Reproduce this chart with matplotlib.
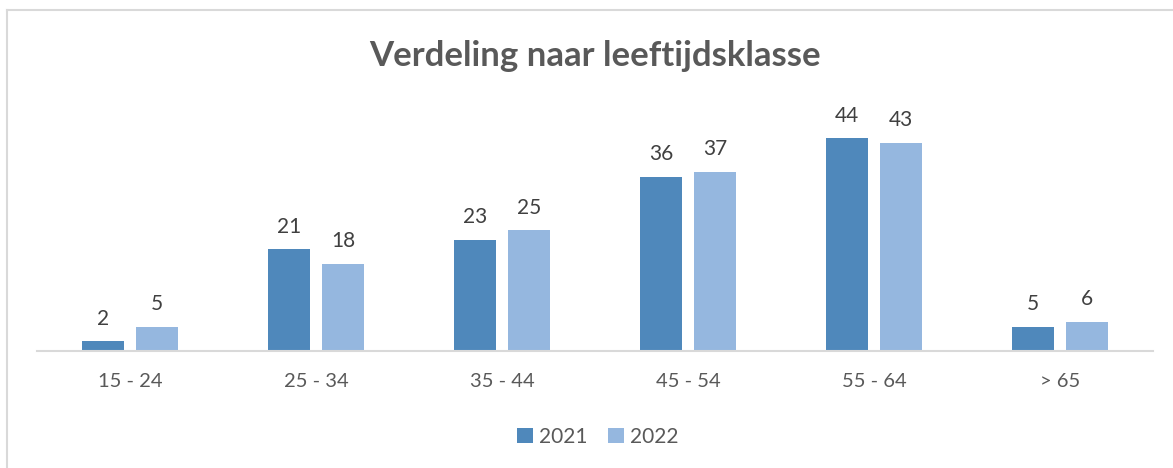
import matplotlib
matplotlib.use("Agg")
import matplotlib.pyplot as plt
from matplotlib.patches import Patch
from matplotlib.lines import Line2D
import numpy as np

categories = ["15 - 24", "25 - 34", "35 - 44", "45 - 54", "55 - 64", "> 65"]
series_names = ["2021", "2022"]
values_2021 = [2, 21, 23, 36, 44, 5]
values_2022 = [5, 18, 25, 37, 43, 6]
colors = ["#4F88BB", "#95B7DF"]
text_color = "#595959"
font = ["Lato", "DejaVu Sans"]

W, H = 1173, 468
fig = plt.figure(figsize=(W / 100, H / 100), dpi=100)
fig.patch.set_facecolor("white")

# outer frame lines (top and left)
fig.add_artist(Line2D([7 / W, 1.0], [1 - 10 / H, 1 - 10 / H], color="#D9D9D9", lw=1.5))
fig.add_artist(Line2D([7 / W, 7 / W], [0, 1 - 10 / H], color="#D9D9D9", lw=1.5))

ax = fig.add_axes([37 / W, (H - 351) / H, (1153 - 37) / W, 251 / H])
x = np.arange(len(categories))
bw = 0.226
off = 0.145
b1 = ax.bar(x - off, values_2021, bw, color=colors[0], label=series_names[0])
b2 = ax.bar(x + off, values_2022, bw, color=colors[1], label=series_names[1])

for bars, vals in ((b1, values_2021), (b2, values_2022)):
    for r, v in zip(bars, vals):
        ax.annotate(str(v), (r.get_x() + r.get_width() / 2, r.get_height()),
                    xytext=(0, 9), textcoords="offset points", ha="center", va="bottom",
                    fontsize=15, color="#404040", family=font)

ax.set_xlim(-0.5, len(categories) - 0.5)
ax.set_ylim(0, 251 / 4.84)
ax.set_xticks(x)
ax.set_xticklabels(categories, fontsize=14.5, color=text_color, family=font)
ax.tick_params(axis="x", length=0, pad=16)
ax.set_yticks([])
for s in ["top", "right", "left"]:
    ax.spines[s].set_visible(False)
ax.spines["bottom"].set_color("#D9D9D9")
ax.spines["bottom"].set_linewidth(1.5)
ax.set_facecolor("none")

fig.text(595 / W, 1 - 56 / H, "Verdeling naar leeftijdsklasse", ha="center", va="center",
         fontsize=25, fontweight="bold", color=text_color, family=font)

handles = [Patch(facecolor=colors[0]), Patch(facecolor=colors[1])]
fig.legend(handles, series_names, loc="center", bbox_to_anchor=(598 / W, 1 - 437 / H),
           ncol=2, frameon=False, handlelength=0.75, handleheight=0.75, handletextpad=0.3,
           columnspacing=1.0, prop={"family": font, "size": 15}, labelcolor=text_color)

fig.savefig("out.png", dpi=100)
